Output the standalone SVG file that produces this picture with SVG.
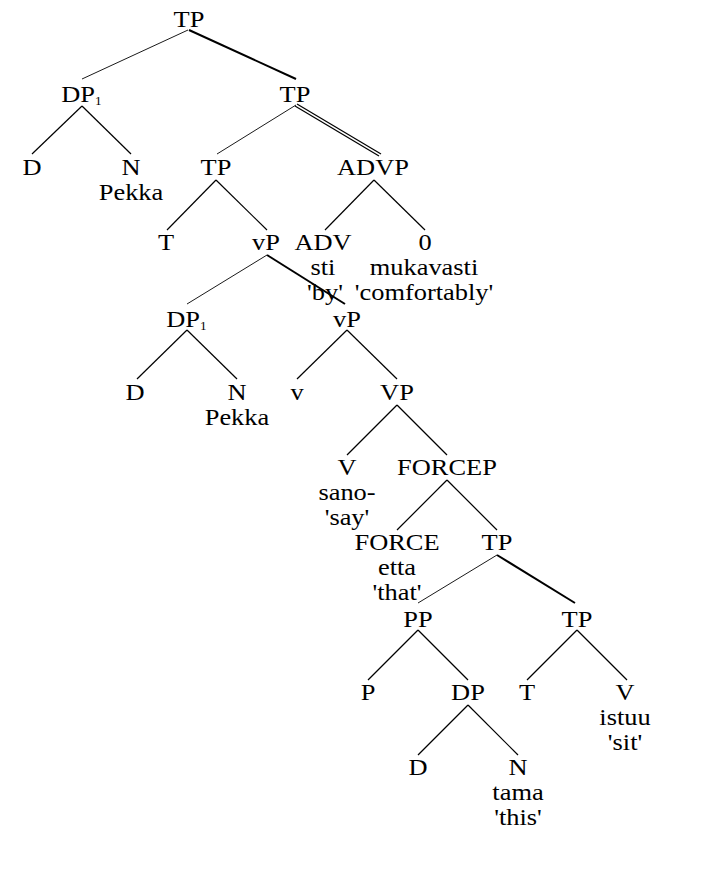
<svg xmlns="http://www.w3.org/2000/svg" width="714" height="870" viewBox="0 0 714 870">
<style>
text{font-family:"Liberation Serif","Times New Roman",serif;font-size:24px;fill:#000;text-anchor:middle;transform-box:fill-box;transform-origin:center;transform:scaleX(1.1)}
text.s{text-anchor:start}
.sub{font-size:12px}
line{stroke:#000;stroke-width:1.2}
line.t{stroke-width:0.9}
line.k{stroke-width:2}
</style>
<rect width="714" height="870" fill="#fff"/>
<g id="connectors">
<line class="t" x1="188" y1="30" x2="82" y2="79"/>
<line class="k" x1="189" y1="30" x2="296" y2="79"/>
<line x1="82" y1="106" x2="32" y2="154"/>
<line x1="82" y1="106" x2="131" y2="154"/>
<line class="t" x1="296" y1="105" x2="217" y2="154"/>
<line x1="297" y1="104" x2="381" y2="154"/>
<line x1="295" y1="106" x2="379" y2="156"/>
<line x1="216" y1="180" x2="167" y2="230"/>
<line x1="216" y1="180" x2="267" y2="230"/>
<line x1="374" y1="180" x2="325" y2="230"/>
<line x1="374" y1="180" x2="425" y2="230"/>
<line class="t" x1="267" y1="255" x2="187" y2="304"/>
<line class="k" x1="267" y1="255" x2="345" y2="304"/>
<line x1="187" y1="330" x2="137" y2="379"/>
<line x1="187" y1="330" x2="237" y2="379"/>
<line x1="347" y1="330" x2="297" y2="379"/>
<line x1="347" y1="330" x2="397" y2="379"/>
<line x1="397" y1="405" x2="347" y2="455"/>
<line x1="397" y1="405" x2="447" y2="455"/>
<line x1="447" y1="480" x2="397" y2="530"/>
<line x1="447" y1="480" x2="497" y2="530"/>
<line class="t" x1="497" y1="555" x2="418" y2="603"/>
<line class="k" x1="497" y1="555" x2="575" y2="603"/>
<line x1="418" y1="630" x2="368" y2="680"/>
<line x1="418" y1="630" x2="468" y2="680"/>
<line x1="577" y1="630" x2="527" y2="680"/>
<line x1="577" y1="630" x2="627" y2="680"/>
<line x1="468" y1="705" x2="418" y2="755"/>
<line x1="468" y1="705" x2="518" y2="755"/>
</g>
<g id="n-tp-root"><text x="189" y="27">TP</text></g>
<g id="n-dp1-a"><text class="s" x="63" y="102">DP<tspan class="sub" dy="3">1</tspan></text></g>
<g id="n-tp-2"><text x="295" y="102">TP</text></g>
<g id="n-d-a"><text x="32" y="175">D</text></g>
<g id="n-n-a"><text x="131" y="175">N</text><text x="131" y="200">Pekka</text></g>
<g id="n-tp-3"><text x="216" y="175">TP</text></g>
<g id="n-advp"><text x="373" y="175">ADVP</text></g>
<g id="n-t-a"><text x="166" y="250">T</text></g>
<g id="n-vp-a"><text x="266" y="250">vP</text></g>
<g id="n-adv"><text x="323" y="250">ADV</text><text x="323" y="275">sti</text><text x="325" y="300">'by'</text></g>
<g id="n-zero"><text x="425" y="250">0</text><text x="424" y="275">mukavasti</text><text x="424" y="300">'comfortably'</text></g>
<g id="n-dp1-b"><text class="s" x="168" y="327">DP<tspan class="sub" dy="3">1</tspan></text></g>
<g id="n-vp-b"><text x="347" y="327">vP</text></g>
<g id="n-d-b"><text x="135" y="400">D</text></g>
<g id="n-n-b"><text x="237" y="400">N</text><text x="237" y="425">Pekka</text></g>
<g id="n-v-small"><text x="297" y="400">v</text></g>
<g id="n-VP"><text x="397" y="400">VP</text></g>
<g id="n-V-a"><text x="347" y="475">V</text><text x="347" y="500">sano-</text><text x="347" y="525">'say'</text></g>
<g id="n-forcep"><text x="447" y="475">FORCEP</text></g>
<g id="n-force"><text x="397" y="550">FORCE</text><text x="397" y="575">etta</text><text x="397" y="600">'that'</text></g>
<g id="n-tp-4"><text x="497" y="550">TP</text></g>
<g id="n-pp"><text x="418" y="627">PP</text></g>
<g id="n-tp-5"><text x="577" y="627">TP</text></g>
<g id="n-p"><text x="368" y="700">P</text></g>
<g id="n-dp"><text x="468" y="700">DP</text></g>
<g id="n-t-b"><text x="527" y="700">T</text></g>
<g id="n-V-b"><text x="625" y="700">V</text><text x="625" y="725">istuu</text><text x="625" y="750">'sit'</text></g>
<g id="n-d-c"><text x="418" y="775">D</text></g>
<g id="n-n-c"><text x="518" y="775">N</text><text x="518" y="800">tama</text><text x="518" y="825">'this'</text></g>
</svg>
